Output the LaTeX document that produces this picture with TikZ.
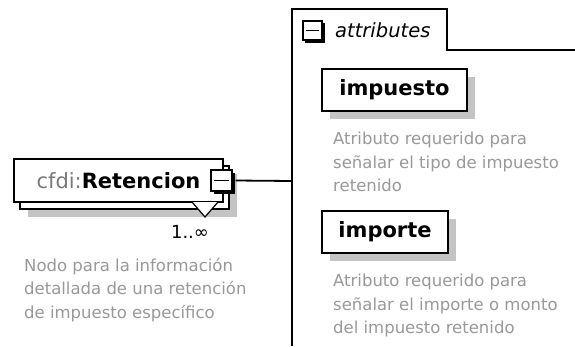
\documentclass[tikz,border=0pt]{standalone}
\usepackage{fontspec}
\setmainfont{DejaVu Sans}
\usetikzlibrary{shadows}
\definecolor{desc}{HTML}{999999}
\definecolor{shad}{HTML}{C4C4C4}
\definecolor{pref}{HTML}{7A7A7A}
\begin{document}
\begin{tikzpicture}[x=1pt,y=-1pt,
  elem/.style={draw=black, line width=1.6pt, fill=white, minimum height=43pt, inner sep=0pt,
    font=\fontsize{21}{24}\selectfont\bfseries},
  attrbox/.style={elem, drop shadow={shadow xshift=8pt, shadow yshift=-8pt, fill=shad, opacity=1}},
  desctext/.style={anchor=north west, inner sep=0pt, align=left, text=desc,
    font=\fontsize{16.5}{23.3}\selectfont},
  grp/.style={draw=black, line width=1.8pt},
  minusbox/.style={draw=black, line width=1.2pt, fill=white, inner sep=0pt},
  minusline/.style={line width=1.4pt}
]
\useasboundingbox[fill=white] (0,0) rectangle (575,346);

% group (attributes) outline
\coordinate (gbot) at (292,346);
\coordinate (gtl) at (292,9);
\coordinate (gtr) at (447,9);
\coordinate (gtb) at (447,50);
\coordinate (gend) at (575,50);
\draw[grp] (gbot) -- (gtl) -- (gtr) -- (gtb) -- (gend);
\coordinate (gj) at (292,181);

% tab minus
\fill[black] (305,23) rectangle (325,43);
\node[minusbox, minimum size=19pt] (tabminus) at (312.5,30.5) {};
\draw[minusline] ([xshift=3.5pt]tabminus.west) -- ([xshift=-3.5pt]tabminus.east);
\node[anchor=base west, inner sep=0pt, font=\fontsize{19.5}{22}\selectfont\itshape] (attrlbl) at (335,37) {attributes};

% Retencion element with copies
\fill[shad] (28,174) rectangle (237,217);
\draw[line width=1.6pt, fill=white] (20,166) rectangle (229,209);
\node[elem, minimum width=209pt] (ret) at (118.5,180.5) {\textcolor{pref}{\mdseries cfdi:}Retencion\hspace{7pt}};
\coordinate (chev) at (205,202);
\fill[white] ([xshift=-13pt]chev) -- ([yshift=-15pt]chev) -- ([xshift=13pt]chev) -- cycle;
\draw[line width=1.2pt] ([xshift=-13pt]chev) -- ([yshift=-15pt]chev) -- ([xshift=13pt]chev);
\node[inner sep=0pt, font=\fontsize{18}{20}\selectfont] (mult) at (190,232) {1..∞};

% Retencion minus
\fill[black] (214,173) rectangle (235,194);
\node[minusbox, minimum size=21pt] (retminus) at (221.5,180.5) {};
\draw[minusline] ([xshift=4pt]retminus.west) -- ([xshift=-4pt]retminus.east);
\draw[grp] ([xshift=3pt]retminus.east) -- (gj);

\node[desctext] (retdesc) at (24,258) {Nodo para la información\\detallada de una retención\\de impuesto específico};

% attributes
\node[attrbox, minimum width=145pt, minimum height=42pt] (imp) at (394.5,90) {impuesto};
\node[desctext] (impdesc) at (333,132) {Atributo requerido para\\señalar el tipo de impuesto\\retenido};

\node[attrbox, minimum width=126pt, minimum height=42pt] (impo) at (385,232) {importe};
\node[desctext] (impodesc) at (333,274) {Atributo requerido para\\señalar el importe o monto\\del impuesto retenido};
\end{tikzpicture}
\end{document}
